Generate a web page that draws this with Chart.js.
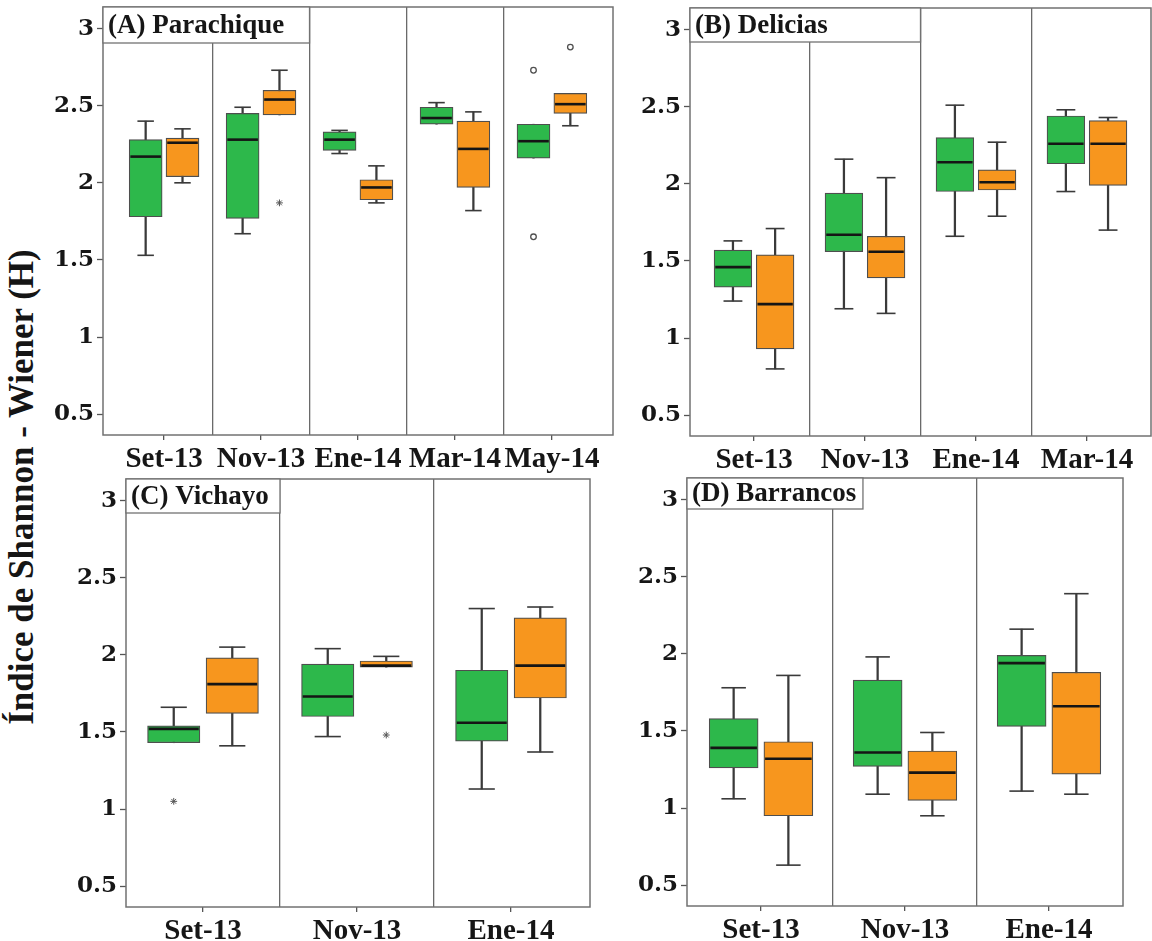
<!DOCTYPE html>
<html lang="es">
<head>
<meta charset="utf-8">
<title>Índice de Shannon - Wiener (H)</title>
<script src="https://cdn.jsdelivr.net/npm/chart.js@4/dist/chart.umd.min.js"></script>
<style>
  html, body { margin: 0; padding: 0; background: #fff; }
  body { position: relative; width: 1152px; height: 941px; overflow: hidden; }
  canvas { position: absolute; }
  #tituloY {
    position: absolute; left: -238px; top: 467px; width: 520px; height: 40px;
    line-height: 40px; text-align: center; transform: rotate(-90deg);
    font: bold 35px "Liberation Serif", "Times New Roman", serif; color: #151515;
    white-space: nowrap;
  }
</style>
</head>
<body>
<div id="tituloY">Índice de Shannon - Wiener (H)</div>
<canvas id="cA" width="571" height="470" style="left:43px;top:5px"></canvas>
<canvas id="cB" width="522" height="470" style="left:630px;top:6px"></canvas>
<canvas id="cC" width="525" height="464" style="left:66px;top:477px"></canvas>
<canvas id="cD" width="497" height="464" style="left:627px;top:476px"></canvas>
<script>
// Cada caja: [mínimo, Q1, mediana, Q3, máximo]
const marcasY = [0.5, 1, 1.5, 2, 2.5, 3];

// (A) Parachique
const mesesA = ['Set-13', 'Nov-13', 'Ene-14', 'Mar-14', 'May-14'];
const parachiqueVerde = [
  [1.53, 1.78, 2.17, 2.28, 2.40],
  [1.67, 1.77, 2.28, 2.45, 2.49],
  [2.19, 2.21, 2.28, 2.33, 2.34],
  [2.38, 2.38, 2.42, 2.49, 2.52],
  [2.16, 2.16, 2.27, 2.38, 2.38]
];
const parachiqueNaranja = [
  [2.00, 2.04, 2.26, 2.29, 2.35],
  [2.44, 2.44, 2.54, 2.60, 2.73],
  [1.87, 1.89, 1.97, 2.02, 2.11],
  [1.82, 1.97, 2.22, 2.40, 2.46],
  [2.37, 2.45, 2.51, 2.58, 2.58]
];
const parachiqueAtipicos = [
  { mes: 1, serie: 1, valor: 1.87, tipo: 'extremo' },
  { mes: 4, serie: 0, valor: 2.73, tipo: 'atipico' },
  { mes: 4, serie: 0, valor: 1.65, tipo: 'atipico' },
  { mes: 4, serie: 1, valor: 2.88, tipo: 'atipico' }
];

// (B) Delicias
const mesesB = ['Set-13', 'Nov-13', 'Ene-14', 'Mar-14'];
const deliciasVerde = [
  [1.24, 1.33, 1.46, 1.57, 1.63],
  [1.19, 1.56, 1.67, 1.94, 2.16],
  [1.66, 1.95, 2.14, 2.30, 2.51],
  [1.95, 2.13, 2.26, 2.44, 2.48]
];
const deliciasNaranja = [
  [0.80, 0.93, 1.22, 1.54, 1.71],
  [1.16, 1.39, 1.56, 1.66, 2.04],
  [1.79, 1.96, 2.01, 2.09, 2.27],
  [1.70, 1.99, 2.26, 2.41, 2.43]
];
const deliciasAtipicos = [];

// (C) Vichayo
const mesesC = ['Set-13', 'Nov-13', 'Ene-14'];
const vichayoVerde = [
  [1.43, 1.43, 1.52, 1.54, 1.66],
  [1.47, 1.60, 1.73, 1.94, 2.04],
  [1.13, 1.44, 1.56, 1.90, 2.30]
];
const vichayoNaranja = [
  [1.41, 1.62, 1.81, 1.98, 2.05],
  [1.92, 1.92, 1.93, 1.96, 1.99],
  [1.37, 1.72, 1.93, 2.24, 2.31]
];
const vichayoAtipicos = [
  { mes: 0, serie: 0, valor: 1.05, tipo: 'extremo' },
  { mes: 1, serie: 1, valor: 1.48, tipo: 'extremo' }
];

// (D) Barrancos
const mesesD = ['Set-13', 'Nov-13', 'Ene-14'];
const barrancosVerde = [
  [1.06, 1.26, 1.39, 1.58, 1.78],
  [1.09, 1.27, 1.36, 1.83, 1.98],
  [1.11, 1.53, 1.94, 1.99, 2.16]
];
const barrancosNaranja = [
  [0.63, 0.95, 1.32, 1.43, 1.86],
  [0.95, 1.05, 1.23, 1.37, 1.49],
  [1.09, 1.22, 1.66, 1.88, 2.39]
];
const barrancosAtipicos = [];

// ---- estilo ----
const VERDE = '#2db84b';
const NARANJA = '#f7961e';
const BORDE_CAJA = '#4e4e4e';
const BIGOTE = '#3a3a3a';
const MEDIANA = '#151515';
const MARCO = '#727272';
const SEPARADOR = '#6a6a6a';
const TEXTO = '#161616';
const DESPLAZ = 0.19;     // separación de cada caja respecto al centro del mes
const ANCHO_CAJA = 0.34;  // en unidades del eje x
const ANCHO_TOPE = 0.17;
const EJE_Y_ANCHO = 60;
const PAD_TOP = 2, PAD_DER = 1;

// Marco del área de trazado y recuadro con el nombre de la localidad
const marcoYTitulo = {
  id: 'marcoYTitulo',
  afterDatasetsDraw(chart, args, opts) {
    const { ctx, chartArea: a, scales: { x } } = chart;
    ctx.save();
    ctx.strokeStyle = MARCO;
    ctx.lineWidth = 1.5;
    ctx.strokeRect(a.left, a.top, a.right - a.left, a.bottom - a.top);
    const der = x.getPixelForValue(opts.hasta);
    ctx.fillStyle = '#fff';
    ctx.fillRect(a.left, a.top, der - a.left, opts.alto);
    ctx.lineWidth = 1.3;
    ctx.strokeRect(a.left, a.top, der - a.left, opts.alto);
    ctx.font = 'bold 27px "Liberation Serif", "Times New Roman", serif';
    ctx.fillStyle = TEXTO;
    ctx.textBaseline = 'middle';
    ctx.textAlign = 'left';
    ctx.fillText(opts.texto, a.left + 5, a.top + opts.alto / 2 + 1);
    ctx.restore();
  }
};

function esMedio(v) { return Math.abs(v - Math.round(v)) > 0.25; }

function crearPanel(idCanvas, p) {
  const canvas = document.getElementById(idCanvas);
  const anchoArea = canvas.width - EJE_Y_ANCHO - PAD_DER;
  const pxUnidad = anchoArea / (p.xMax - p.xMin);
  const cajaPx = ANCHO_CAJA * pxUnidad;
  const topePx = ANCHO_TOPE * pxUnidad;

  const series = [
    { datos: p.verde, dx: -DESPLAZ, color: VERDE },
    { datos: p.naranja, dx: DESPLAZ, color: NARANJA }
  ];
  const datasets = [];
  series.forEach(s => {
    // tallo del bigote, de mínimo a máximo
    datasets.push({
      type: 'bar', grouped: false, order: 5,
      data: s.datos.map((r, i) => ({ x: i + s.dx, y: [r[0], r[4]] })),
      backgroundColor: BIGOTE, borderWidth: 0, barThickness: 1.6
    });
    // caja intercuartílica
    datasets.push({
      type: 'bar', grouped: false, order: 4,
      data: s.datos.map((r, i) => ({ x: i + s.dx, y: [r[1], r[3]] })),
      backgroundColor: s.color, borderColor: BORDE_CAJA, borderWidth: 1.2,
      borderSkipped: false, barThickness: cajaPx
    });
    // topes de los bigotes
    const topes = [];
    s.datos.forEach((r, i) => {
      if (r[0] < r[1]) topes.push({ x: i + s.dx, y: r[0] });
      if (r[4] > r[3]) topes.push({ x: i + s.dx, y: r[4] });
    });
    datasets.push({
      type: 'scatter', order: 3, data: topes,
      pointStyle: 'line', pointRadius: topePx / 2, pointHoverRadius: topePx / 2,
      pointBorderColor: BIGOTE, pointBorderWidth: 1.6
    });
    // mediana
    datasets.push({
      type: 'scatter', order: 2,
      data: s.datos.map((r, i) => ({ x: i + s.dx, y: r[2] })),
      pointStyle: 'line', pointRadius: cajaPx / 2 - 1.2, pointHoverRadius: cajaPx / 2 - 1.2,
      pointBorderColor: MEDIANA, pointBorderWidth: 2.6
    });
  });
  const posAtipico = a => ({ x: a.mes + (a.serie === 0 ? -DESPLAZ : DESPLAZ), y: a.valor });
  datasets.push({
    type: 'scatter', order: 1,
    data: p.atipicos.filter(a => a.tipo === 'atipico').map(posAtipico),
    pointStyle: 'circle', pointRadius: 2.8, pointHoverRadius: 2.8,
    pointBackgroundColor: '#fff', pointBorderColor: '#505050', pointBorderWidth: 1.3
  });
  datasets.push({
    type: 'scatter', order: 0,
    data: p.atipicos.filter(a => a.tipo === 'extremo').map(posAtipico),
    pointStyle: 'star', pointRadius: 3.4, pointHoverRadius: 3.4,
    pointBorderColor: '#555', pointBorderWidth: 1
  });

  const valoresX = [];
  p.meses.forEach((m, i) => {
    valoresX.push(i);
    if (i < p.meses.length - 1) valoresX.push(i + 0.5);
  });

  return new Chart(canvas, {
    type: 'bar',
    data: { datasets },
    options: {
      responsive: false,
      animation: false,
      devicePixelRatio: 1,
      events: [],
      layout: { autoPadding: false, padding: { top: PAD_TOP, right: PAD_DER, left: 0, bottom: 0 } },
      plugins: {
        legend: { display: false },
        tooltip: { enabled: false },
        title: { display: false },
        marcoYTitulo: { texto: p.titulo, hasta: p.hasta, alto: p.alto }
      },
      scales: {
        x: {
          type: 'linear', min: p.xMin, max: p.xMax, offset: false,
          afterBuildTicks: sc => { sc.ticks = valoresX.map(v => ({ value: v })); },
          afterFit: sc => { sc.height = p.altoEjeX; sc.paddingLeft = 0; sc.paddingRight = 0; },
          border: { display: false },
          grid: {
            offset: false, drawOnChartArea: true, drawTicks: true, tickLength: 5,
            lineWidth: 1.3,
            color: c => (c.tick && esMedio(c.tick.value)) ? SEPARADOR : 'rgba(0,0,0,0)',
            tickColor: c => (c.tick && esMedio(c.tick.value)) ? 'rgba(0,0,0,0)' : '#555',
            tickWidth: 1.3
          },
          ticks: {
            autoSkip: false, maxRotation: 0, padding: 2, color: TEXTO,
            font: { family: '"Liberation Serif", "Times New Roman", serif', size: 29, weight: 'bold' },
            callback: v => esMedio(v) ? '' : p.meses[Math.round(v)]
          }
        },
        y: {
          type: 'linear', min: 0.365, max: 3.14, beginAtZero: false,
          afterBuildTicks: sc => { sc.ticks = marcasY.map(v => ({ value: v })); },
          afterFit: sc => { sc.width = EJE_Y_ANCHO; sc.paddingTop = 0; sc.paddingBottom = 0; },
          border: { display: false },
          grid: { drawOnChartArea: false, drawTicks: true, tickLength: 6, tickColor: '#555', tickWidth: 1.3 },
          ticks: {
            padding: 3, color: TEXTO,
            font: { family: '"DejaVu Serif", "Liberation Serif", serif', size: 23, weight: 'bold' },
            callback: v => String(v)
          }
        }
      }
    },
    plugins: [marcoYTitulo]
  });
}

crearPanel('cA', {
  meses: mesesA, verde: parachiqueVerde, naranja: parachiqueNaranja, atipicos: parachiqueAtipicos,
  xMin: -0.63, xMax: 4.63, titulo: '(A) Parachique', hasta: 1.5, alto: 36, altoEjeX: 40
});
crearPanel('cB', {
  meses: mesesB, verde: deliciasVerde, naranja: deliciasNaranja, atipicos: deliciasAtipicos,
  xMin: -0.577, xMax: 3.577, titulo: '(B) Delicias', hasta: 1.5, alto: 34, altoEjeX: 40
});
crearPanel('cC', {
  meses: mesesC, verde: vichayoVerde, naranja: vichayoNaranja, atipicos: vichayoAtipicos,
  xMin: -0.5, xMax: 2.513, titulo: '(C) Vichayo', hasta: 0.5, alto: 34, altoEjeX: 34
});
crearPanel('cD', {
  meses: mesesD, verde: barrancosVerde, naranja: barrancosNaranja, atipicos: barrancosAtipicos,
  xMin: -0.514, xMax: 2.514, titulo: '(D) Barrancos', hasta: 0.708, alto: 31, altoEjeX: 34
});
</script>
</body>
</html>
